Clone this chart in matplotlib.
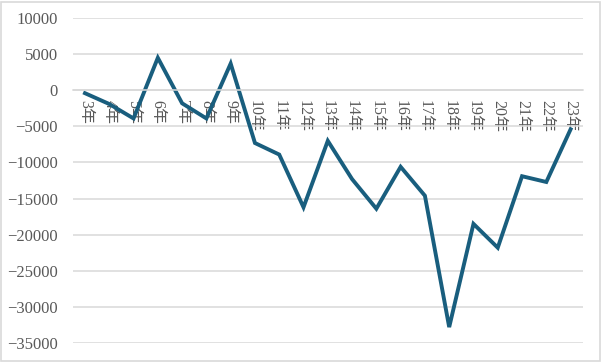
import matplotlib.pyplot as plt

years = [f"{i}年" for i in range(3, 24)]
values = [-400, -1900, -3900, 4500, -1800, -3900, 3700, -7300, -8900, -16200,
          -7000, -12300, -16400, -10600, -14600, -32800, -18500, -21800,
          -11900, -12700, -5400]

plt.rcParams['font.family'] = ['Liberation Serif', 'Noto Sans CJK JP']

fig = plt.figure(figsize=(6.02, 3.62), dpi=100)
ax = fig.add_axes([0.121, 0.0525, 0.847, 0.8975])

x = range(len(years))
ax.plot(x, values, color='#195E7E', linewidth=2.8, solid_joinstyle='miter')

ax.set_xlim(-0.5, len(years) - 0.5)
ax.set_ylim(-35000, 10000)
ax.set_yticks(range(-35000, 10001, 5000))
ax.yaxis.grid(True, color='#D9D9D9', linewidth=1.1)
ax.set_axisbelow(True)

for s in ['top', 'right', 'left']:
    ax.spines[s].set_visible(False)
ax.spines['bottom'].set_position(('data', 0))
ax.spines['bottom'].set_color('#D9D9D9')
ax.spines['bottom'].set_linewidth(1.1)

ax.tick_params(axis='both', length=0, colors='#595959')
ax.tick_params(axis='x', pad=7, labelsize=11.5)
ax.tick_params(axis='y', pad=11, labelsize=12)

ax.set_xticks(list(x))
ax.set_xticklabels(years)
for lab in ax.get_xticklabels():
    lab.set_rotation(270)
    lab.set_va('top')
    lab.set_ha('center')

fig.patches.append(plt.Rectangle((0.002, 0.003), 0.994, 0.992, transform=fig.transFigure,
                                 fill=False, edgecolor='#D9D9D9', linewidth=1.2))

fig.savefig('out.png', dpi=100)
